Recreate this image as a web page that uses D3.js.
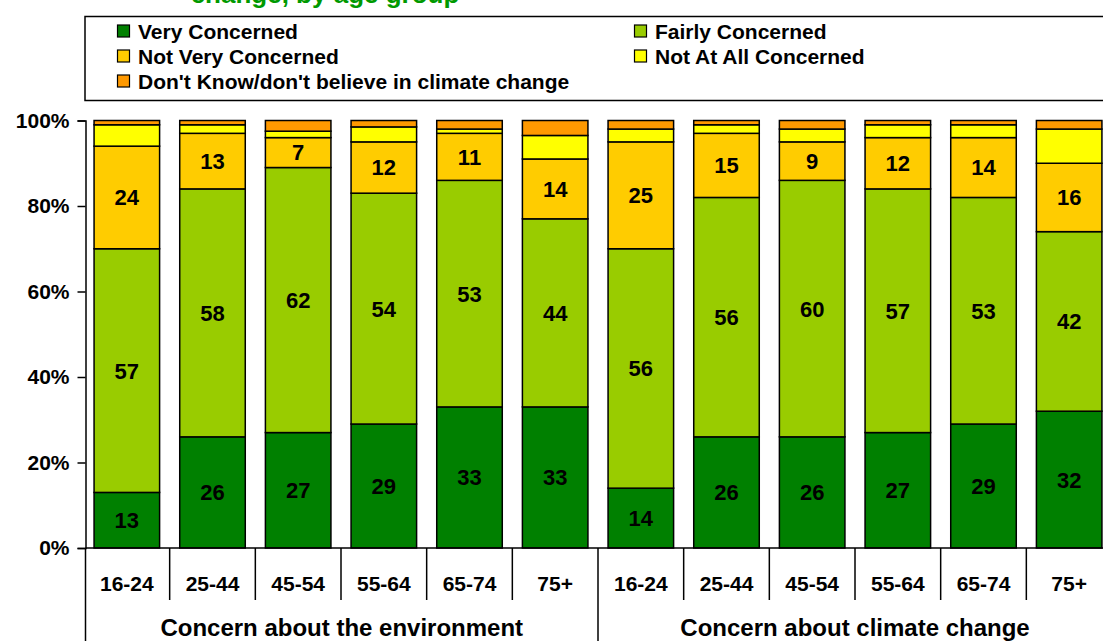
<!DOCTYPE html>
<html>
<head>
<meta charset="utf-8">
<script src="https://cdn.jsdelivr.net/npm/d3@7"></script>
<style>
  html, body { margin: 0; padding: 0; background: #fff; }
  svg { display: block; }
  text { font-family: "Liberation Sans", Arial, sans-serif; font-weight: bold; }
</style>
</head>
<body>
<svg id="chart" width="1103" height="641"></svg>
<script>
// Age groups repeated for each of the two topics
const ageGroups = ["16-24", "25-44", "45-54", "55-64", "65-74", "75+"];
const topics = ["Concern about the environment", "Concern about climate change"];

// Percentages per bar: six environment bars, then six climate change bars
const veryConcerned     = [13, 26, 27, 29, 33, 33,   14, 26, 26, 27, 29, 32];
const fairlyConcerned   = [57, 58, 62, 54, 53, 44,   56, 56, 60, 57, 53, 42];
const notVeryConcerned  = [24, 13, 7, 12, 11, 14,    25, 15, 9, 12, 14, 16];
const notAtAllConcerned = [5, 2, 1.5, 3.5, 1, 5.5,   3, 2, 3, 3, 3, 8];
const dontKnow          = [1, 1, 2.5, 1.5, 2, 3.5,   2, 1, 2, 1, 1, 2];

const seriesNames = ["Very Concerned", "Fairly Concerned", "Not Very Concerned",
                     "Not At All Concerned", "Don't Know/don't believe in climate change"];
const seriesColors = ["#008000", "#99CC00", "#FFCC00", "#FFFF00", "#FF9900"];
const labelledSeries = ["Very Concerned", "Fairly Concerned", "Not Very Concerned"];
const yTicks = [0, 20, 40, 60, 80, 100];

const seriesValues = [veryConcerned, fairlyConcerned, notVeryConcerned, notAtAllConcerned, dontKnow];

// Table of rows for d3.stack
const rows = [];
topics.forEach((topic, t) => {
  ageGroups.forEach((age, a) => {
    const i = t * ageGroups.length + a;
    const row = { key: topic + "|" + age, topic, age };
    seriesNames.forEach((s, k) => { row[s] = seriesValues[k][i]; });
    rows.push(row);
  });
});

const svg = d3.select("#chart");

const plotTop = 120.5, plotBottom = 548;
const x = d3.scaleBand()
  .domain(rows.map(d => d.key))
  .range([84, 1112])
  .paddingInner(0.235)
  .paddingOuter(0.1175);
const y = d3.scaleLinear().domain([0, 100]).range([plotBottom, plotTop]);
const color = d3.scaleOrdinal().domain(seriesNames).range(seriesColors);

const stacked = d3.stack().keys(seriesNames)(rows);

// Title (only its last line sits inside the frame)
svg.append("text")
  .attr("x", 325).attr("y", 3)
  .attr("text-anchor", "middle")
  .attr("fill", "#009900")
  .style("font-size", "26px")
  .text("change, by age group");

// Legend
const legend = svg.append("g");
legend.append("rect")
  .attr("x", 85).attr("y", 16.5)
  .attr("width", 1030).attr("height", 84)
  .attr("fill", "#fff").attr("stroke", "#000").attr("stroke-width", 1.5);
const legendCols = [117, 634];
seriesNames.forEach((s, i) => {
  const cx = legendCols[i % 2];
  const cy = 31 + Math.floor(i / 2) * 25;
  const g = legend.append("g");
  g.append("rect")
    .attr("x", cx + 0.5).attr("y", cy - 6)
    .attr("width", 12).attr("height", 12)
    .attr("fill", color(s)).attr("stroke", "#000").attr("stroke-width", 1.2);
  g.append("text")
    .attr("x", cx + 21).attr("y", cy)
    .attr("dy", "0.36em")
    .style("font-size", "21px")
    .text(s);
});

// Stacked bars
const layers = svg.append("g").selectAll("g")
  .data(stacked)
  .join("g")
  .attr("fill", d => color(d.key));

layers.selectAll("rect")
  .data(d => d)
  .join("rect")
  .attr("x", d => x(d.data.key))
  .attr("width", x.bandwidth())
  .attr("y", d => y(d[1]))
  .attr("height", d => y(d[0]) - y(d[1]))
  .attr("stroke", "#000")
  .attr("stroke-width", 1.5);

// Value labels on the three main segments
stacked.filter(l => labelledSeries.includes(l.key)).forEach(layer => {
  svg.append("g").selectAll("text")
    .data(layer)
    .join("text")
    .attr("x", d => x(d.data.key) + x.bandwidth() / 2)
    .attr("y", d => y((d[0] + d[1]) / 2))
    .attr("dy", "0.36em")
    .attr("text-anchor", "middle")
    .style("font-size", "22px")
    .text(d => d.data[layer.key]);
});

// Y axis
const yAxis = d3.axisLeft(y)
  .tickValues(yTicks)
  .tickFormat(d => d + "%")
  .tickSize(8)
  .tickPadding(8);
const yg = svg.append("g")
  .attr("transform", "translate(85.5,0)")
  .call(yAxis);
yg.select(".domain").attr("stroke", "#000").attr("stroke-width", 1.5);
yg.selectAll(".tick line").attr("stroke", "#000").attr("stroke-width", 1.5);
yg.selectAll(".tick text").style("font-size", "21px").attr("fill", "#000");

// X axis: baseline, category cells and topic cells
const axisG = svg.append("g");
axisG.append("line")
  .attr("x1", 85.5).attr("x2", 1112)
  .attr("y1", plotBottom).attr("y2", plotBottom)
  .attr("stroke", "#000").attr("stroke-width", 1.5);

const step = x.step();
const start = x.range()[0];
rows.forEach((d, i) => {
  const cx = x(d.key) + x.bandwidth() / 2;
  axisG.append("text")
    .attr("x", cx).attr("y", 583)
    .attr("dy", "0.36em")
    .attr("text-anchor", "middle")
    .style("font-size", "21px")
    .text(d.age);
  if (i > 0) {
    const bx = start + i * step;
    const groupEdge = i % ageGroups.length === 0;
    axisG.append("line")
      .attr("x1", bx).attr("x2", bx)
      .attr("y1", plotBottom).attr("y2", groupEdge ? 641 : 600)
      .attr("stroke", "#000").attr("stroke-width", 1.5);
  }
});
axisG.append("line")
  .attr("x1", 85.5).attr("x2", 85.5)
  .attr("y1", plotBottom).attr("y2", 641)
  .attr("stroke", "#000").attr("stroke-width", 1.5);

topics.forEach((t, k) => {
  const x0 = k === 0 ? 85.5 : start + 6 * step;
  const x1 = start + (k + 1) * 6 * step;
  axisG.append("text")
    .attr("x", (x0 + x1) / 2).attr("y", 636)
    .attr("text-anchor", "middle")
    .style("font-size", "24px")
    .text(t);
});
</script>
</body>
</html>
